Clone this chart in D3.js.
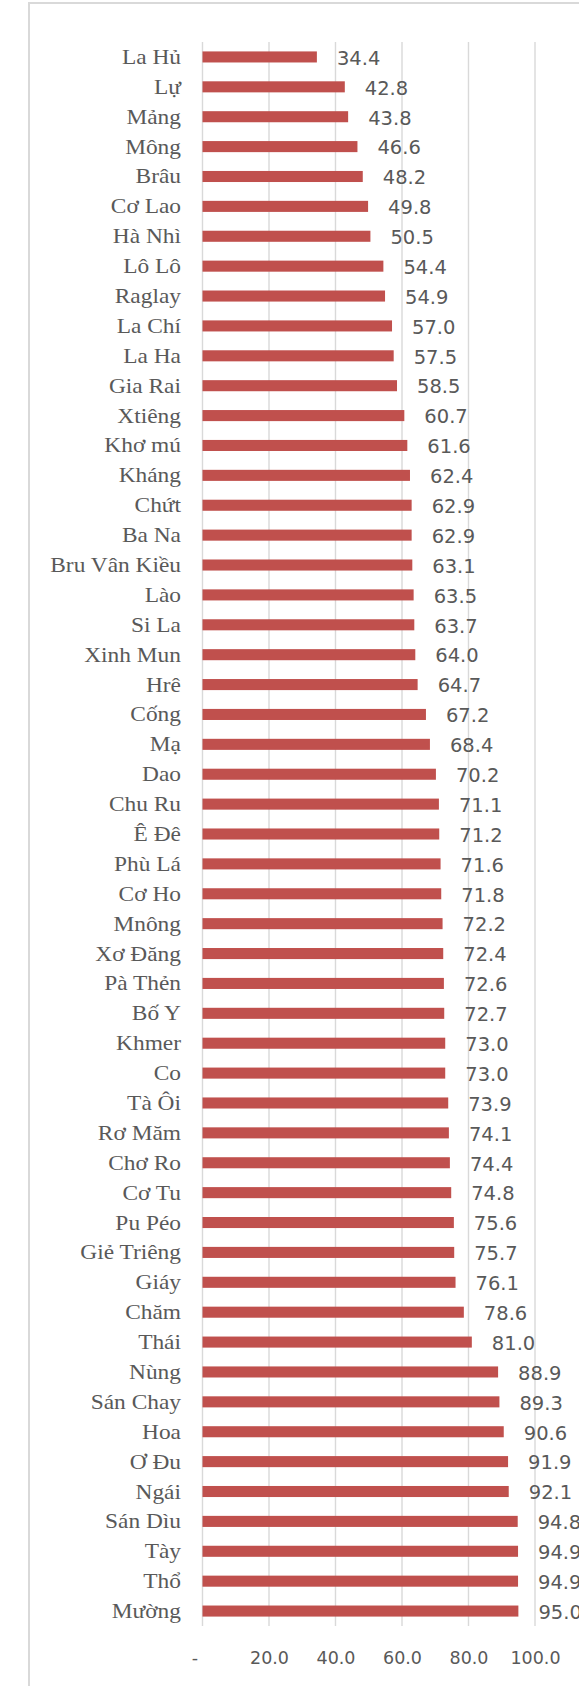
<!DOCTYPE html>
<html>
<head>
<meta charset="utf-8">
<script src="https://cdn.jsdelivr.net/npm/d3@7"></script>
<style>
  body { margin: 0; background: #fff; }
  svg { display: block; }
</style>
</head>
<body>
<div class="chart-wrapper"></div>
<script>
// ethnic groups, top to bottom
const groups = [
    "La Hủ", "Lự", "Mảng", "Mông", "Brâu", "Cơ Lao", "Hà Nhì", "Lô Lô", "Raglay", "La Chí",
    "La Ha", "Gia Rai", "Xtiêng", "Khơ mú", "Kháng", "Chứt", "Ba Na", "Bru Vân Kiều", "Lào", "Si La",
    "Xinh Mun", "Hrê", "Cống", "Mạ", "Dao", "Chu Ru", "Ê Đê", "Phù Lá", "Cơ Ho", "Mnông",
    "Xơ Đăng", "Pà Thẻn", "Bố Y", "Khmer", "Co", "Tà Ôi", "Rơ Măm", "Chơ Ro", "Cơ Tu", "Pu Péo",
    "Giẻ Triêng", "Giáy", "Chăm", "Thái", "Nùng", "Sán Chay", "Hoa", "Ơ Đu", "Ngái", "Sán Dìu",
    "Tày", "Thổ", "Mường"
];

const values = [
    34.4, 42.8, 43.8, 46.6, 48.2, 49.8, 50.5, 54.4, 54.9, 57.0,
    57.5, 58.5, 60.7, 61.6, 62.4, 62.9, 62.9, 63.1, 63.5, 63.7,
    64.0, 64.7, 67.2, 68.4, 70.2, 71.1, 71.2, 71.6, 71.8, 72.2,
    72.4, 72.6, 72.7, 73.0, 73.0, 73.9, 74.1, 74.4, 74.8, 75.6,
    75.7, 76.1, 78.6, 81.0, 88.9, 89.3, 90.6, 91.9, 92.1, 94.8,
    94.9, 94.9, 95.0
];

const xTicks = [0, 20, 40, 60, 80, 100];

const data = groups.map((g, i) => ({ name: g, value: values[i] }));

// sizes
const svgWidth = 579;
const svgHeight = 1686;
const plot = { left: 202.5, right: 535, top: 42, bottom: 1626 };

const svg = d3.select(".chart-wrapper")
    .append("svg")
    .attr("width", svgWidth)
    .attr("height", svgHeight);

// chart frame (runs off the right and bottom edges)
svg.append("rect")
    .attr("x", 29)
    .attr("y", 3)
    .attr("width", 620)
    .attr("height", 1760)
    .attr("fill", "#fff")
    .attr("stroke", "#d9d9d9")
    .attr("stroke-width", 2);

const xScale = d3.scaleLinear()
    .domain([0, 100])
    .range([plot.left, plot.right]);

const yScale = d3.scaleBand()
    .domain(groups)
    .range([plot.top, plot.bottom])
    .paddingInner(0.63)
    .paddingOuter(0.315);

// vertical gridlines
svg.selectAll(".grid")
    .data(xTicks)
    .enter()
    .append("line")
    .attr("class", "grid")
    .attr("x1", d => xScale(d))
    .attr("x2", d => xScale(d))
    .attr("y1", plot.top)
    .attr("y2", plot.bottom)
    .attr("stroke", "#d9d9d9")
    .attr("stroke-width", 1.4);

// bars
svg.selectAll(".bar")
    .data(data)
    .enter()
    .append("rect")
    .attr("class", "bar")
    .attr("x", xScale(0))
    .attr("y", d => yScale(d.name))
    .attr("width", d => xScale(d.value) - xScale(0))
    .attr("height", yScale.bandwidth())
    .attr("fill", "#c0504d");

// value labels
svg.selectAll(".value")
    .data(data)
    .enter()
    .append("text")
    .attr("class", "value")
    .attr("x", d => xScale(d.value) + 20)
    .attr("y", d => yScale(d.name) + yScale.bandwidth() / 2)
    .attr("dy", "0.4em")
    .style("font-family", "'DejaVu Sans', sans-serif")
    .style("font-size", "19.5px")
    .style("fill", "#595959")
    .text(d => d.value.toFixed(1));

// category labels (serif, slightly widened like the original)
svg.selectAll(".cat")
    .data(data)
    .enter()
    .append("text")
    .attr("class", "cat")
    .attr("transform", d => `translate(181,${yScale(d.name) + yScale.bandwidth() / 2}) scale(1.17,1)`)
    .attr("dy", "0.35em")
    .attr("text-anchor", "end")
    .style("font-family", "'Liberation Serif', 'Times New Roman', serif")
    .style("font-size", "20px")
    .style("fill", "#595959")
    .text(d => d.name);

// x axis labels
const xAxis = d3.axisBottom(xScale)
    .tickValues(xTicks)
    .tickSize(0)
    .tickFormat(d => d === 0 ? "-" : d.toFixed(1));

const axisG = svg.append("g")
    .attr("class", "x-axis")
    .attr("transform", `translate(0,${plot.bottom})`)
    .call(xAxis);

axisG.select(".domain").remove();
axisG.selectAll("text")
    .attr("y", 31.5)
    .attr("dy", "0.35em")
    .attr("dx", d => d === 0 ? -8 : 0)
    .style("font-family", "'DejaVu Sans', sans-serif")
    .style("font-size", "17.5px")
    .style("fill", "#595959");
</script>
</body>
</html>
